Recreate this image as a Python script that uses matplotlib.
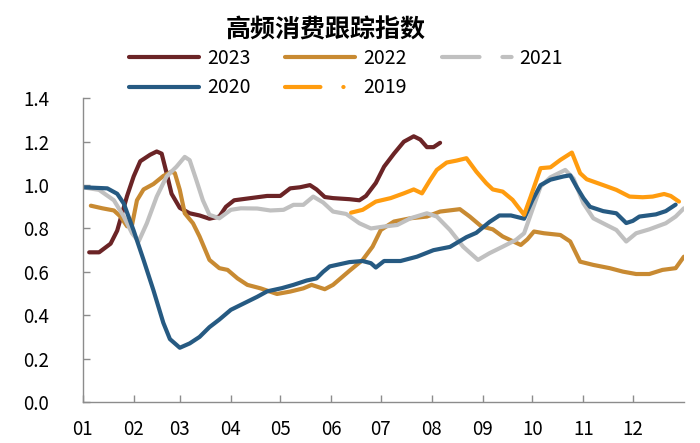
import matplotlib
matplotlib.use("Agg")
import matplotlib.pyplot as plt
from matplotlib.lines import Line2D

plt.rcParams['font.family'] = ['Noto Sans CJK SC', 'DejaVu Sans']

# day of year (0 = Jan 1) and index values
days_2023 = [4, 10, 17, 21, 27, 31, 35, 41, 45, 48, 51, 54, 59, 65, 71, 77, 83, 87, 92, 102,
             112, 120, 126, 132, 138, 142, 147, 152, 162, 168, 172, 178, 183, 189, 195, 201, 205, 209, 213, 217]
vals_2023 = [0.69, 0.69, 0.73, 0.79, 0.95, 1.04, 1.11, 1.14, 1.155, 1.145, 1.055, 0.96, 0.895, 0.87, 0.86, 0.845, 0.855, 0.90, 0.93, 0.94,
             0.95, 0.95, 0.985, 0.99, 1.0, 0.98, 0.945, 0.94, 0.935, 0.93, 0.95, 1.01, 1.085, 1.145, 1.20, 1.225, 1.21, 1.175, 1.175, 1.195]

days_2022 = [5, 12, 19, 23, 27, 30, 33, 37, 43, 49, 54, 56, 59, 62, 67, 71, 77, 83, 88, 94,
             100, 108, 118, 126, 134, 139, 147, 152, 162, 170, 176, 181, 189, 199, 209, 217, 229, 235, 242, 249,
             255, 266, 270, 274, 280, 290, 296, 302, 310, 320, 328, 336, 344, 352, 360, 365]
vals_2022 = [0.905, 0.893, 0.883, 0.855, 0.81, 0.816, 0.93, 0.98, 1.005, 1.042, 1.062, 1.055, 0.978, 0.87, 0.824, 0.763, 0.655, 0.617, 0.609, 0.57,
             0.54, 0.524, 0.498, 0.509, 0.524, 0.54, 0.52, 0.54, 0.605, 0.655, 0.716, 0.793, 0.832, 0.847, 0.855, 0.878, 0.889, 0.855, 0.81, 0.796,
             0.763, 0.724, 0.75, 0.786, 0.778, 0.77, 0.74, 0.647, 0.632, 0.617, 0.601, 0.59, 0.59, 0.609, 0.617, 0.67]

days_2021 = [0, 10, 19, 25, 30, 34, 39, 45, 51, 57, 62, 65, 69, 73, 77, 83, 90, 96, 106, 114,
             122, 128, 134, 140, 146, 152, 160, 168, 175, 183, 191, 199, 209, 215, 223, 231, 240, 247, 255, 263,
             268, 273, 278, 284, 293, 298, 304, 310, 318, 324, 330, 336, 344, 354, 360, 365]
vals_2021 = [0.99, 0.978, 0.93, 0.855, 0.778, 0.74, 0.824, 0.947, 1.04, 1.085, 1.13, 1.115, 1.024, 0.93, 0.863, 0.847, 0.886, 0.893, 0.892, 0.883,
             0.886, 0.909, 0.909, 0.947, 0.92, 0.878, 0.867, 0.824, 0.80, 0.809, 0.816, 0.847, 0.87, 0.855, 0.793, 0.716, 0.655, 0.686, 0.716, 0.747,
             0.778, 0.886, 0.993, 1.036, 1.07, 1.03, 0.916, 0.847, 0.816, 0.793, 0.74, 0.778, 0.796, 0.824, 0.855, 0.893]

days_2020 = [0, 15, 21, 25, 31, 37, 43, 49, 53, 59, 65, 71, 77, 83, 90, 98, 106, 112, 121, 128,
             136, 142, 146, 150, 162, 170, 175, 178, 183, 193, 203, 213, 223, 233, 239, 247, 253, 260, 268, 273,
             278, 284, 292, 296, 300, 304, 308, 316, 324, 330, 334, 338, 348, 354, 360]
vals_2020 = [0.99, 0.985, 0.96, 0.915, 0.79, 0.655, 0.515, 0.365, 0.29, 0.25, 0.27, 0.30, 0.345, 0.38, 0.425, 0.455, 0.485, 0.51, 0.525, 0.54,
             0.56, 0.57, 0.60, 0.625, 0.645, 0.65, 0.64, 0.62, 0.65, 0.65, 0.67, 0.70, 0.715, 0.76, 0.78, 0.83, 0.86, 0.86, 0.845, 0.93,
             1.00, 1.025, 1.04, 1.045, 0.99, 0.94, 0.90, 0.88, 0.87, 0.825, 0.835, 0.855, 0.865, 0.88, 0.91]

days_2019 = [163, 170, 178, 187, 195, 201, 206, 211, 215, 221, 227, 233, 239, 245, 249, 255, 261, 268, 272, 278,
             284, 290, 297, 302, 306, 316, 324, 332, 340, 346, 353, 357, 362]
vals_2019 = [0.873, 0.886, 0.924, 0.94, 0.962, 0.98, 0.962, 1.024, 1.07, 1.104, 1.113, 1.124, 1.062, 1.009, 0.98, 0.97, 0.932, 0.863, 0.947, 1.078,
             1.082, 1.116, 1.15, 1.055, 1.027, 1.0, 0.978, 0.947, 0.944, 0.947, 0.959, 0.95, 0.924]

month_starts = [0, 31, 59, 90, 120, 151, 181, 212, 243, 273, 304, 334]
month_labels = ["01", "02", "03", "04", "05", "06", "07", "08", "09", "10", "11", "12"]

colors = {
    "2023": "#6B2426",
    "2022": "#C88A32",
    "2021": "#C0C0C0",
    "2020": "#265A82",
    "2019": "#FF9C0F",
}

fig = plt.figure(figsize=(7, 4.43), dpi=100)
ax = fig.add_axes([0.118, 0.0926, 0.859, 0.6854])

lw = 3.0
kw = dict(lw=lw, solid_capstyle="round", solid_joinstyle="round")
ax.plot(days_2023, vals_2023, color=colors["2023"], **kw)
ax.plot(days_2022, vals_2022, color=colors["2022"], **kw)
ax.plot(days_2021, vals_2021, color=colors["2021"], **kw)
ax.plot(days_2020, vals_2020, color=colors["2020"], **kw)
ax.plot(days_2019, vals_2019, color=colors["2019"], **kw)

ax.set_xlim(0, 365)
ax.set_ylim(0, 1.4)
ax.set_xticks(month_starts)
ax.set_xticklabels(month_labels)
ax.set_yticks([0, 0.2, 0.4, 0.6, 0.8, 1.0, 1.2, 1.4])
ax.set_yticklabels(["0.0", "0.2", "0.4", "0.6", "0.8", "1.0", "1.2", "1.4"])

for s in ["top", "right"]:
    ax.spines[s].set_visible(False)
for s in ["left", "bottom"]:
    ax.spines[s].set_color("#8C8C8C")
    ax.spines[s].set_linewidth(1.0)
ax.tick_params(axis="both", direction="in", length=5, width=1.0, color="#8C8C8C",
               labelsize=13.5, labelcolor="black")
ax.tick_params(axis="y", pad=24)
ax.tick_params(axis="x", pad=12)

# legend (handles column-major so rows read 2023 2022 2021 / 2020 2019)
cap = dict(lw=lw, solid_capstyle="round", dash_capstyle="round")
h2023 = Line2D([], [], color=colors["2023"], **cap)
h2022 = Line2D([], [], color=colors["2022"], **cap)
h2021 = Line2D([], [], color=colors["2021"], linestyle=(0, (9, 5.5, 2.2, 30)), **cap)
h2020 = Line2D([], [], color=colors["2020"], **cap)
h2019 = Line2D([], [], color=colors["2019"], linestyle=(0, (8.5, 5.5, 0.05, 30)), **cap)
fig.legend([h2023, h2020, h2022, h2019, h2021],
           ["2023", "2020", "2022", "2019", "2021"],
           ncol=3, loc="center", bbox_to_anchor=(346 / 700, 1 - 73 / 443),
           frameon=False, fontsize=14, handlelength=3.6, handletextpad=0.4,
           columnspacing=1.8, labelspacing=0.45, borderpad=0)

fig.text(326 / 700, 1 - 30 / 443, "高频消费跟踪指数", ha="center", va="center",
         fontsize=18, fontweight="bold")

fig.savefig("out.png", dpi=100)
